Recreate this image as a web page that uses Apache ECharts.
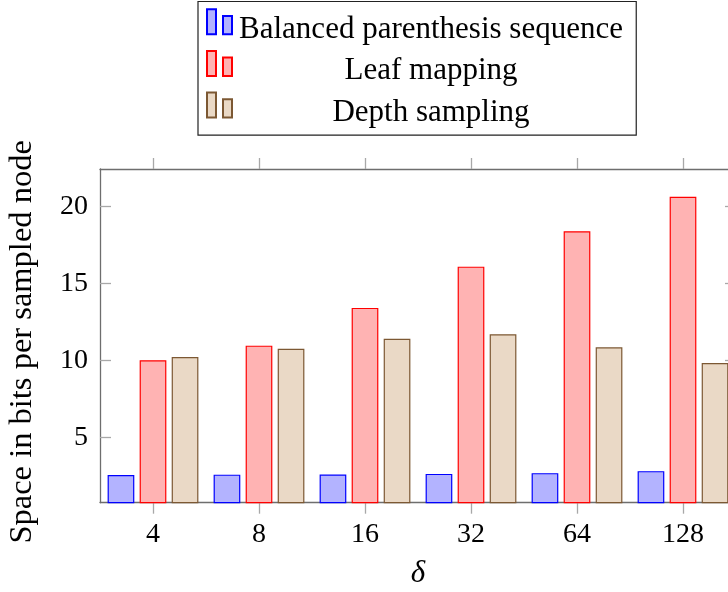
<!DOCTYPE html>
<html>
<head>
<meta charset="utf-8">
<script src="https://cdn.jsdelivr.net/npm/echarts@6/dist/echarts.min.js"></script>
<style>
html,body{margin:0;padding:0;background:#fff;}
#c{width:728px;height:592px;}
</style>
</head>
<body>
<div id="c"></div>
<script>
// ---- data ----
const categories = ['4', '8', '16', '32', '64', '128'];
const seriesNames = ['Balanced parenthesis sequence', 'Leaf mapping', 'Depth sampling'];
const bpsValues = [2.55, 2.57, 2.58, 2.62, 2.67, 2.80];
const leafValues = [10.0, 10.95, 13.4, 16.08, 18.38, 20.62];
const depthValues = [10.21, 10.75, 11.40, 11.69, 10.84, 9.82];
const yTicks = [5, 10, 15, 20];
const yMin = 0.75, yMax = 22.42;

// ---- styles ----
const serif = '"Liberation Serif", "DejaVu Serif", serif';
const frameColor = '#6e6e6e';
const tickColor = '#a8a8a8';
const colors = [
  {fill: '#b3b3ff', stroke: '#0000ff'},
  {fill: '#ffb3b3', stroke: '#ff0000'},
  {fill: '#ead9c6', stroke: '#7c5833'}
];
const legendIcon = 'path://M0,0 H9 V25 H0 Z M16,6.7 H25 V25 H16 Z M0,40.4 L0.01,40.4';

const chart = echarts.init(document.getElementById('c'), null, {renderer: 'canvas'});

function bar(name, data, c) {
  return {
    name, type: 'bar', data,
    xAxisIndex: 0, yAxisIndex: 0,
    barWidth: 26.7, barGap: '20%',
    clip: true,
    itemStyle: {color: c.fill, borderColor: c.stroke, borderWidth: 1.2},
    emphasis: {disabled: true},
    animation: false
  };
}

const xCommon = {
  type: 'category', data: categories, boundaryGap: true,
  axisLine: {show: true, lineStyle: {color: frameColor, width: 1.3}},
  axisTick: {show: true, inside: false, length: 11, alignWithLabel: true, lineStyle: {color: tickColor, width: 1.3}},
  splitLine: {show: false}
};
const yCommon = {
  type: 'value', min: yMin, max: yMax,
  axisLine: {show: true, lineStyle: {color: frameColor, width: 1.3}},
  axisTick: {show: true, inside: true, length: 11, customValues: yTicks, lineStyle: {color: tickColor, width: 1.3}},
  splitLine: {show: false}
};

chart.setOption({
  animation: false,
  backgroundColor: '#ffffff',
  grid: {left: 100, top: 169, width: 636, height: 333.7, containLabel: false, outerBoundsMode: 'none'},
  legend: {
    show: true,
    orient: 'vertical',
    left: 198, top: 1.5,
    padding: [6.8, 13.3, 1.2, 8],
    itemWidth: 25, itemHeight: 40.4, itemGap: -0.8,
    icon: legendIcon,
    borderColor: '#222', borderWidth: 1.2, backgroundColor: '#fff',
    selectedMode: false,
    data: seriesNames,
    formatter: '{c|{name}}',
    textStyle: {
      color: '#000',
      rich: {c: {width: 388, align: 'center', fontFamily: serif, fontSize: 31, color: '#000'}}
    }
  },
  xAxis: [
    Object.assign({}, xCommon, {
      position: 'bottom',
      axisLabel: {show: true, margin: 18, color: '#000', fontFamily: serif, fontSize: 28},
      name: 'δ', nameLocation: 'middle', nameGap: 56, nameMoveOverlap: false,
      nameTextStyle: {color: '#000', fontFamily: serif, fontSize: 31, fontStyle: 'italic'}
    }),
    Object.assign({}, xCommon, {
      position: 'top',
      axisLabel: {show: false}
    })
  ],
  yAxis: [
    Object.assign({}, yCommon, {
      position: 'left',
      axisLabel: {show: true, margin: 12, customValues: yTicks, color: '#000', fontFamily: serif, fontSize: 28},
      name: 'Space in bits per sampled node', nameLocation: 'middle', nameGap: 61, nameRotate: 90, nameMoveOverlap: false,
      nameTextStyle: {color: '#000', fontFamily: serif, fontSize: 32.5, padding: [0, 12, 0, 0]}
    }),
    Object.assign({}, yCommon, {
      position: 'right',
      axisLabel: {show: false}
    })
  ],
  series: [
    bar(seriesNames[0], bpsValues, colors[0]),
    bar(seriesNames[1], leafValues, colors[1]),
    bar(seriesNames[2], depthValues, colors[2])
  ]
});
</script>
</body>
</html>
